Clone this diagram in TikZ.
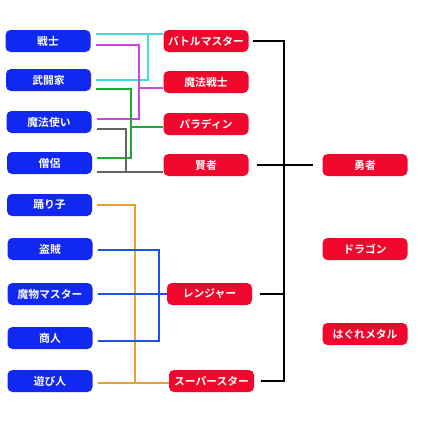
\documentclass[tikz,border=0pt]{standalone}
\usepackage{fontspec}
\newfontfamily\jpfont{Noto Sans CJK JP}[BoldFont={Noto Sans CJK JP Bold}]
\usetikzlibrary{positioning, calc}

\definecolor{jobblue}{RGB}{16,40,240}
\definecolor{jobred}{RGB}{240,8,44}
\definecolor{cyanline}{RGB}{64,220,220}
\definecolor{magentaline}{RGB}{204,68,221}
\definecolor{greenline}{RGB}{30,170,50}
\definecolor{grayline}{RGB}{100,100,100}
\definecolor{orangeline}{RGB}{232,160,48}
\definecolor{blueline}{RGB}{30,80,240}

\begin{document}
\begin{tikzpicture}[x=1pt, y=-1pt,
    job/.style={rectangle, rounded corners=5pt, minimum width=85pt, minimum height=22pt, inner sep=0pt,
                text=white, font=\jpfont\bfseries\fontsize{10.8}{12}\selectfont},
    basejob/.style={job, fill=jobblue},
    highjob/.style={job, fill=jobred},
    link/.style={line width=1.1pt}
]

    \useasboundingbox (0,0) rectangle (440,440);

    % Base jobs
    \node[basejob] (senshi) at (48,41) {戦士};
    \node[basejob] (butouka) at (48.5,80) {武闘家};
    \node[basejob] (mahou) at (49,122) {魔法使い};
    \node[basejob] (souryo) at (49.5,163) {僧侶};
    \node[basejob] (odoriko) at (49.5,205) {踊り子};
    \node[basejob] (touzoku) at (50,249) {盗賊};
    \node[basejob] (mamono) at (50,294) {魔物マスター};
    \node[basejob] (shounin) at (50,338) {商人};
    \node[basejob] (asobi) at (50,381) {遊び人};

    % Upper jobs
    \node[highjob] (battle) at (206,41) {バトルマスター};
    \node[highjob] (mahousenshi) at (206,82) {魔法戦士};
    \node[highjob] (paladin) at (206,124) {パラディン};
    \node[highjob] (kenja) at (206,165) {賢者};
    \node[highjob] (ranger) at (209.5,294) {レンジャー};
    \node[highjob] (superstar) at (211.5,381) {スーパースター};

    % Top jobs
    \node[highjob] (yuusha) at (365,165) {勇者};
    \node[highjob] (dragon) at (365,249) {ドラゴン};
    \node[highjob] (hagure) at (365,334) {はぐれメタル};

    % Battle master
    \coordinate (cyanjoin) at (148,34);
    \draw[link, cyanline] ($(senshi.east)+(5,-7)$) -- (cyanjoin) -- (battle.west |- cyanjoin);
    \draw[link, cyanline] ($(butouka.east)+(5,0)$) -| (cyanjoin);

    % Magic warrior
    \coordinate (magentajoin) at (139,88);
    \draw[link, magentaline] ($(senshi.east)+(5,4)$) -| (magentajoin) -- (mahousenshi.west |- magentajoin);
    \draw[link, magentaline] ($(mahou.east)+(5,-3)$) -| (magentajoin);

    % Paladin
    \coordinate (greenjoin) at (131,127);
    \draw[link, greenline] ($(butouka.east)+(5,9)$) -| (greenjoin) -- (paladin.west |- greenjoin);
    \draw[link, greenline] ($(souryo.east)+(5,-5)$) -| (greenjoin);

    % Sage
    \coordinate (grayjoin) at (126,172);
    \draw[link, grayline] ($(mahou.east)+(5,7)$) -| (grayjoin);
    \draw[link, grayline] ($(souryo.east)+(5,9)$) -- (grayjoin) -- (kenja.west |- grayjoin);

    % Super star
    \coordinate (orangejoin) at (135,383);
    \draw[link, orangeline] ($(odoriko.east)+(5,0)$) -| (orangejoin);
    \draw[link, orangeline] ($(asobi.east)+(5,2)$) -- (orangejoin) -- (superstar.west |- orangejoin);

    % Ranger
    \coordinate (bluejoin) at (159,294);
    \draw[link, blueline] ($(touzoku.east)+(5,1)$) -| (bluejoin);
    \draw[link, blueline] ($(shounin.east)+(5,3)$) -| (bluejoin);
    \draw[link, blueline] ($(mamono.east)+(5,0)$) -- (ranger.west);

    % Hero
    \coordinate (herojoin) at (284,165);
    \draw[link, black] ($(battle.east)+(4,0)$) -| (herojoin);
    \draw[link, black] ($(superstar.east)+(7,0)$) -| (herojoin);
    \draw[link, black] ($(ranger.east)+(8,0)$) -- (ranger.east -| herojoin);
    \draw[link, black] ($(kenja.east)+(8,0)$) -- ($(yuusha.west)+(-9,0)$);

\end{tikzpicture}
\end{document}
